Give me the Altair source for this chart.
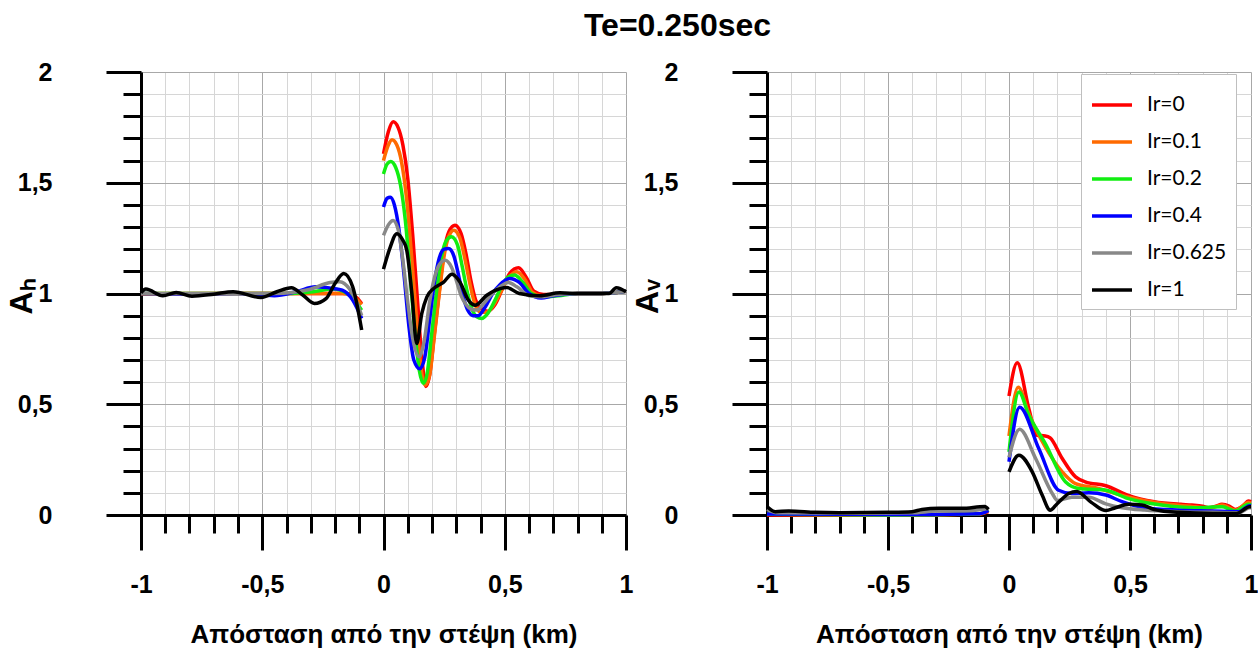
import altair as alt
import pandas as pd

SERIES = ["Ir=0", "Ir=0.1", "Ir=0.2", "Ir=0.4", "Ir=0.625", "Ir=1"]
COLORS = ["#ff0000", "#ff6a00", "#11ee11", "#0000ff", "#888888", "#000000"]

# ---------------- Ah panel, x < 0 branch ----------------
AH_NEG_X_0 = [-1, -0.6, -0.3, -0.15, -0.12, -0.09]
AH_NEG_Y_0 = [0.998, 1.0, 1.0, 1.0, 0.99, 0.955]
AH_NEG_X_01 = [-1, -0.6, -0.3, -0.17, -0.13, -0.09]
AH_NEG_Y_01 = [1.0, 1.0, 1.0, 1.0, 0.99, 0.95]
AH_NEG_X_02 = [-1, -0.6, -0.4, -0.29, -0.21, -0.15, -0.12, -0.09]
AH_NEG_Y_02 = [1.0, 1.0, 1.0, 1.008, 1.02, 1.0, 0.97, 0.925]
AH_NEG_X_04 = [-1, -0.8, -0.6, -0.45, -0.36, -0.28, -0.21, -0.17, -0.127, -0.09]
AH_NEG_Y_04 = [1.0, 0.998, 1.0, 0.99, 1.008, 1.03, 1.023, 1.015, 0.97, 0.887]
AH_NEG_X_0625 = [-1, -0.8, -0.6, -0.45, -0.306, -0.22, -0.18, -0.14, -0.11, -0.09]
AH_NEG_Y_0625 = [1.0, 1.0, 1.0, 1.0, 1.018, 1.05, 1.053, 1.02, 0.96, 0.90]
AH_NEG_X_1 = [-1, -0.98, -0.91, -0.855, -0.79, -0.70, -0.62, -0.505, -0.44, -0.38,
              -0.333, -0.285, -0.237, -0.20, -0.164, -0.127, -0.09]
AH_NEG_Y_1 = [1.003, 1.02, 0.99, 1.005, 0.988, 0.997, 1.008, 0.982, 1.008, 1.026,
              0.993, 0.955, 0.977, 1.045, 1.09, 1.03, 0.835]

# ---------------- Ah panel, x >= 0 branch ----------------
AH_POS_X_0 = [0, 0.02, 0.04, 0.06, 0.08, 0.10, 0.12, 0.14, 0.16, 0.175, 0.19, 0.21, 0.23,
              0.25, 0.27, 0.295, 0.32, 0.34, 0.36, 0.38, 0.405, 0.43, 0.46, 0.49, 0.52,
              0.557, 0.59, 0.62, 0.66, 0.72, 0.8, 0.9, 1.0]
AH_POS_Y_0 = [1.63, 1.73, 1.775, 1.75, 1.67, 1.52, 1.27, 0.97, 0.69, 0.58, 0.63, 0.82, 1.01,
              1.19, 1.28, 1.308, 1.27, 1.18, 1.06, 0.97, 0.93, 0.92, 0.95, 1.02, 1.09,
              1.116, 1.07, 1.01, 0.995, 0.995, 1.0, 1.0, 1.01]
AH_POS_X_01 = [0, 0.02, 0.035, 0.055, 0.075, 0.095, 0.115, 0.135, 0.155, 0.172, 0.19, 0.21,
               0.23, 0.25, 0.27, 0.29, 0.315, 0.335, 0.355, 0.375, 0.40, 0.425, 0.455,
               0.485, 0.515, 0.55, 0.585, 0.615, 0.65, 0.72, 0.8, 0.9, 1.0]
AH_POS_Y_01 = [1.60, 1.67, 1.694, 1.67, 1.59, 1.43, 1.18, 0.9, 0.66, 0.586, 0.63, 0.81,
               1.0, 1.17, 1.26, 1.286, 1.25, 1.16, 1.05, 0.96, 0.915, 0.915, 0.95,
               1.01, 1.07, 1.098, 1.06, 1.005, 0.99, 0.995, 1.0, 1.0, 1.01]
AH_POS_X_02 = [0, 0.015, 0.03, 0.05, 0.07, 0.09, 0.11, 0.13, 0.148, 0.165, 0.18, 0.20, 0.22,
               0.24, 0.26, 0.28, 0.305, 0.325, 0.345, 0.365, 0.385, 0.405, 0.43, 0.46,
               0.49, 0.515, 0.54, 0.575, 0.61, 0.65, 0.72, 0.8, 0.9, 1.0]
AH_POS_Y_02 = [1.54, 1.585, 1.596, 1.57, 1.49, 1.33, 1.08, 0.82, 0.65, 0.594, 0.64, 0.83,
               1.02, 1.17, 1.24, 1.256, 1.22, 1.12, 1.01, 0.93, 0.895, 0.887, 0.91, 0.97,
               1.04, 1.075, 1.083, 1.05, 1.0, 0.985, 0.99, 1.0, 1.0, 1.01]
AH_POS_X_04 = [0, 0.015, 0.028, 0.045, 0.065, 0.085, 0.105, 0.125, 0.15, 0.17, 0.19, 0.21,
               0.23, 0.25, 0.268, 0.29, 0.31, 0.33, 0.35, 0.37, 0.39, 0.42, 0.45, 0.48,
               0.52, 0.56, 0.6, 0.65, 0.7, 0.8, 0.9, 1.0]
AH_POS_Y_04 = [1.39, 1.43, 1.435, 1.40, 1.28, 1.08, 0.85, 0.70, 0.66, 0.71, 0.88, 1.05,
               1.16, 1.20, 1.203, 1.17, 1.08, 0.98, 0.92, 0.90, 0.90, 0.94, 1.0, 1.04,
               1.068, 1.05, 1.0, 0.98, 0.99, 1.0, 1.0, 1.01]
AH_POS_X_0625 = [0, 0.02, 0.04, 0.06, 0.08, 0.10, 0.12, 0.147, 0.17, 0.19, 0.21, 0.23, 0.254,
                 0.28, 0.30, 0.32, 0.34, 0.36, 0.385, 0.41, 0.44, 0.48, 0.515, 0.55, 0.6,
                 0.65, 0.72, 0.8, 0.9, 1.0]
AH_POS_Y_0625 = [1.262, 1.31, 1.33, 1.29, 1.15, 0.96, 0.80, 0.714, 0.80, 0.96, 1.07, 1.13,
                 1.15, 1.12, 1.06, 0.99, 0.95, 0.93, 0.925, 0.95, 0.99, 1.03, 1.05, 1.03,
                 0.99, 0.985, 0.995, 1.0, 1.0, 1.01]
AH_POS_X_1 = [0, 0.025, 0.055, 0.08, 0.096, 0.117, 0.137, 0.158, 0.179, 0.206, 0.247, 0.282,
              0.316, 0.35, 0.378, 0.426, 0.481, 0.509, 0.56, 0.645, 0.727, 0.81, 0.878,
              0.93, 0.96, 1.0]
AH_POS_Y_1 = [1.11, 1.2, 1.27, 1.24, 1.195, 1.0, 0.774, 0.91, 0.985, 1.022, 1.05, 1.087,
              1.05, 0.97, 0.947, 0.992, 1.022, 1.027, 1.0, 0.99, 1.003, 1.0, 1.0, 1.0,
              1.026, 1.008]

# ---------------- Av panel, x < 0 branch ----------------
AV_NEG_X_0 = [-1, -0.5, -0.12, -0.085]
AV_NEG_Y_0 = [0.0, 0.0, 0.005, 0.015]
AV_NEG_X_01 = [-1, -0.5, -0.12, -0.085]
AV_NEG_Y_01 = [0.003, 0.0, 0.005, 0.02]
AV_NEG_X_02 = [-1, -0.5, -0.12, -0.085]
AV_NEG_Y_02 = [0.004, 0.0, 0.006, 0.022]
AV_NEG_X_04 = [-1, -0.5, -0.12, -0.085]
AV_NEG_Y_04 = [0.005, 0.002, 0.006, 0.02]
AV_NEG_X_0625 = [-1, -0.96, -0.6, -0.4, -0.3, -0.15, -0.085]
AV_NEG_Y_0625 = [0.025, 0.01, 0.008, 0.01, 0.018, 0.02, 0.03]
AV_NEG_X_1 = [-1, -0.966, -0.91, -0.8, -0.7, -0.5, -0.40, -0.36, -0.29, -0.196, -0.10, -0.085]
AV_NEG_Y_1 = [0.038, 0.015, 0.018, 0.012, 0.01, 0.012, 0.015, 0.025, 0.03, 0.03, 0.038, 0.025]

# ---------------- Av panel, x >= 0 branch ----------------
AV_POS_X_0 = [0, 0.034, 0.082, 0.115, 0.15, 0.17, 0.22, 0.275, 0.315, 0.40, 0.49, 0.60,
              0.71, 0.755, 0.80, 0.825, 0.855, 0.88, 0.91, 0.935, 0.965, 0.99, 1.0]
AV_POS_Y_0 = [0.537, 0.687, 0.48, 0.36, 0.357, 0.348, 0.255, 0.172, 0.15, 0.132, 0.09, 0.06,
              0.048, 0.045, 0.04, 0.033, 0.04, 0.048, 0.04, 0.025, 0.04, 0.063, 0.06]
AV_POS_X_01 = [0, 0.038, 0.082, 0.15, 0.22, 0.275, 0.357, 0.49, 0.63, 0.77, 0.83, 0.88,
               0.935, 0.99, 1.0]
AV_POS_Y_01 = [0.357, 0.577, 0.457, 0.307, 0.195, 0.142, 0.123, 0.082, 0.052, 0.037, 0.03,
               0.045, 0.022, 0.057, 0.055]
AV_POS_X_02 = [0, 0.041, 0.082, 0.15, 0.233, 0.288, 0.40, 0.49, 0.63, 0.77, 0.88, 0.935,
               0.99, 1.0]
AV_POS_Y_02 = [0.285, 0.555, 0.45, 0.322, 0.15, 0.12, 0.112, 0.075, 0.045, 0.033, 0.037,
               0.018, 0.048, 0.045]
AV_POS_X_04 = [0, 0.044, 0.123, 0.205, 0.26, 0.33, 0.40, 0.467, 0.56, 0.70, 0.84, 0.95,
               0.995, 1.0]
AV_POS_Y_04 = [0.24, 0.487, 0.30, 0.112, 0.097, 0.10, 0.09, 0.06, 0.033, 0.022, 0.018,
               0.015, 0.042, 0.042]
AV_POS_X_0625 = [0, 0.044, 0.11, 0.18, 0.20, 0.26, 0.33, 0.40, 0.467, 0.56, 0.70, 0.84,
                 0.95, 0.995, 1.0]
AV_POS_Y_0625 = [0.26, 0.387, 0.255, 0.095, 0.065, 0.08, 0.08, 0.05, 0.033, 0.022, 0.015,
                 0.012, 0.01, 0.033, 0.033]
AV_POS_X_1 = [0, 0.041, 0.096, 0.137, 0.17, 0.20, 0.247, 0.28, 0.34, 0.40, 0.44, 0.495,
              0.55, 0.60, 0.70, 0.84, 0.94, 0.995, 1.0]
AV_POS_Y_1 = [0.195, 0.27, 0.195, 0.09, 0.022, 0.052, 0.097, 0.106, 0.057, 0.02, 0.033,
              0.048, 0.045, 0.025, 0.012, 0.007, 0.007, 0.037, 0.037]

TICK_VALUES = [round(-1 + i * 0.1, 1) for i in range(21)]
Y_TICK_VALUES = [round(i * 0.1, 1) for i in range(21)]

AH_SETS = [
    (AH_NEG_X_0, AH_NEG_Y_0, AH_POS_X_0, AH_POS_Y_0),
    (AH_NEG_X_01, AH_NEG_Y_01, AH_POS_X_01, AH_POS_Y_01),
    (AH_NEG_X_02, AH_NEG_Y_02, AH_POS_X_02, AH_POS_Y_02),
    (AH_NEG_X_04, AH_NEG_Y_04, AH_POS_X_04, AH_POS_Y_04),
    (AH_NEG_X_0625, AH_NEG_Y_0625, AH_POS_X_0625, AH_POS_Y_0625),
    (AH_NEG_X_1, AH_NEG_Y_1, AH_POS_X_1, AH_POS_Y_1),
]
AV_SETS = [
    (AV_NEG_X_0, AV_NEG_Y_0, AV_POS_X_0, AV_POS_Y_0),
    (AV_NEG_X_01, AV_NEG_Y_01, AV_POS_X_01, AV_POS_Y_01),
    (AV_NEG_X_02, AV_NEG_Y_02, AV_POS_X_02, AV_POS_Y_02),
    (AV_NEG_X_04, AV_NEG_Y_04, AV_POS_X_04, AV_POS_Y_04),
    (AV_NEG_X_0625, AV_NEG_Y_0625, AV_POS_X_0625, AV_POS_Y_0625),
    (AV_NEG_X_1, AV_NEG_Y_1, AV_POS_X_1, AV_POS_Y_1),
]


def build(sets):
    rows = []
    for name, (nx, ny, px, py) in zip(SERIES, sets):
        for x, y in zip(nx, ny):
            rows.append({"Ir": name, "seg": name + "_neg", "x": x, "y": y})
        for x, y in zip(px, py):
            rows.append({"Ir": name, "seg": name + "_pos", "x": x, "y": y})
    return pd.DataFrame(rows)


MAJOR = "abs(datum.value * 2 - round(datum.value * 2)) < 0.000001"
LABEL_EXPR = f"{MAJOR} ? replace(toString(datum.value), '.', ',') : ''"
FONT = "Liberation Sans"


def x_axis():
    return alt.Axis(
        values=TICK_VALUES,
        title="Απόσταση από την στέψη (km)",
        titleFont=FONT, titleFontSize=26, titleFontWeight="bold", titleColor="black",
        titlePadding=24,
        labelExpr=LABEL_EXPR, labelFont=FONT, labelFontSize=25, labelFontWeight="bold",
        labelColor="black", labelPadding=22, labelFlush=False, labelOverlap=False,
        domainColor="black", domainWidth=3,
        tickColor="black", tickWidth=3,
        tickSize={"condition": {"test": MAJOR, "value": 35}, "value": 18},
        grid=True,
        gridColor={"condition": {"test": MAJOR, "value": "#a8a8a8"}, "value": "#d6d6d6"},
        gridWidth=1,
    )


def y_axis(title):
    return alt.Axis(
        values=Y_TICK_VALUES,
        title=title,
        titleFont=FONT, titleFontSize=32, titleFontWeight="bold", titleColor="black",
        titleX=-120, titleY=224, titleAngle=270, titleAlign="center",
        titleBaseline="middle",
        labelExpr=LABEL_EXPR, labelFont=FONT, labelFontSize=25, labelFontWeight="bold",
        labelColor="black", labelPadding=54, labelFlush=False, labelOverlap=False,
        domainColor="black", domainWidth=3,
        tickColor="black", tickWidth=3,
        tickSize={"condition": {"test": MAJOR, "value": 35}, "value": 18},
        grid=True,
        gridColor={"condition": {"test": MAJOR, "value": "#a8a8a8"}, "value": "#d6d6d6"},
        gridWidth=1,
    )


def panel(df, ytitle, legend, width):
    return alt.Chart(df).mark_line(strokeWidth=3.5, interpolate="monotone").encode(
        x=alt.X("x:Q", scale=alt.Scale(domain=[-1, 1], nice=False, zero=False), axis=x_axis()),
        y=alt.Y("y:Q", scale=alt.Scale(domain=[0, 2], nice=False), axis=y_axis(ytitle)),
        color=alt.Color("Ir:N", scale=alt.Scale(domain=SERIES, range=COLORS), legend=legend),
        detail="seg:N",
    ).properties(width=width, height=443)


legend = alt.Legend(
    title=None, orient="none", legendX=314, legendY=2,
    symbolType="stroke", symbolSize=1600, symbolStrokeWidth=3.5,
    labelFont="Lato", labelFontSize=21, labelColor="black", labelOffset=13,
    rowPadding=5, padding=9, strokeColor="#bfbfbf", fillColor="white",
)

left = panel(build(AH_SETS), "Aₕ", None, 485)
right = panel(build(AV_SETS), "Aᵥ", legend, 484)

chart = alt.hconcat(left, right, spacing=141, bounds="flush").resolve_scale(
    color="independent"
).properties(
    title=alt.TitleParams("Te=0.250sec", font=FONT, fontSize=32, fontWeight="bold",
                          color="black", anchor="middle", frame="bounds", offset=20,
                          dx=46, dy=3),
    padding={"left": 141, "top": 72, "right": 1117, "bottom": 581},
    autosize="none",
).configure_view(stroke=None)

chart.save("out.html", embed_options={"renderer": "svg", "actions": False})
